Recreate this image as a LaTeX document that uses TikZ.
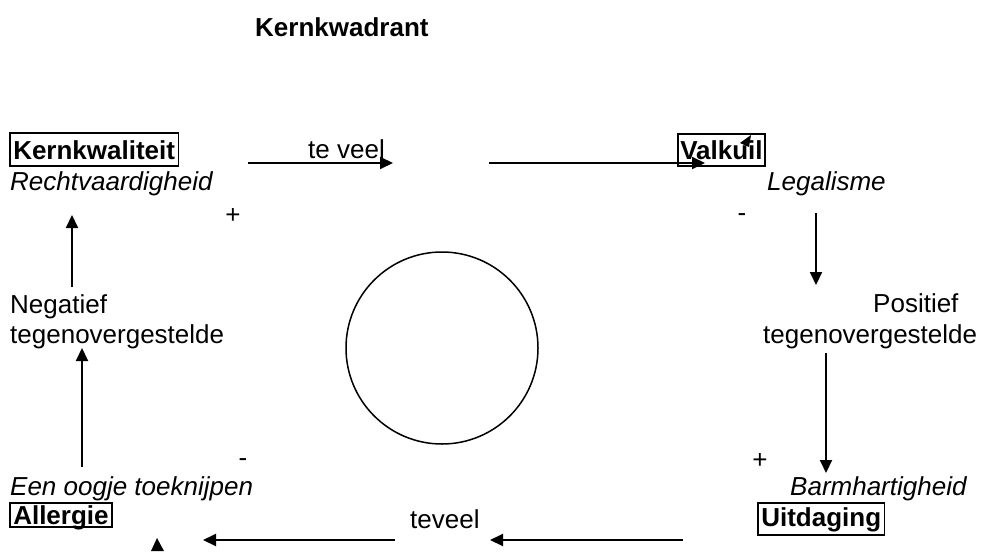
\documentclass[tikz,border=0pt]{standalone}
\usepackage{fontspec}
\setmainfont{Liberation Sans}
\usetikzlibrary{arrows.meta}
\begin{document}
\begin{tikzpicture}[x=1pt,y=-1pt,
  every node/.style={font=\fontsize{26}{30}\selectfont, inner sep=0pt},
  lbl/.style={anchor=base west},
  sign/.style={anchor=center},
  boxed/.style={draw, line width=1.5pt, anchor=base west, inner xsep=3.5pt, inner ysep=3pt, font=\fontsize{26}{30}\selectfont\bfseries},
  flow/.style={line width=2pt, -{Triangle[length=13pt,width=12pt]}},
  tip/.style={fill=black}]
\useasboundingbox (0,0) rectangle (984,551);
% title
\node[lbl, font=\fontsize{26}{30}\selectfont\bfseries] (title) at (255,37) {Kernkwadrant};
% corner boxes
\node[boxed, text height=23pt, text depth=4pt] (kern) at (9,159) {Kernkwaliteit};
\node[boxed, text height=22pt, text depth=4pt, inner xsep=2.5pt] (valk) at (677,159) {Valkuil};
\node[boxed, text height=20pt, text depth=6pt] (uitd) at (757,526) {Uitdaging};
\node[boxed, text height=18pt, text depth=0pt] (allg) at (9,524) {Allergie};
% italic texts
\node[lbl, font=\fontsize{26}{30}\selectfont\itshape] (recht) at (10,190) {Rechtvaardigheid};
\node[lbl, font=\fontsize{26}{30}\selectfont\itshape] (legal) at (767,190) {Legalisme};
\node[lbl, font=\fontsize{26}{30}\selectfont\itshape] (oogje) at (10,495) {Een oogje toeknijpen};
\node[lbl, font=\fontsize{26}{30}\selectfont\itshape] (barm) at (790,495) {Barmhartigheid};
% plain texts
\node[lbl] (teveelA) at (308,158) {te veel};
\node[lbl] (teveelB) at (410,528) {teveel};
\node[lbl] (neg) at (10,313) {Negatief};
\node[lbl] (negt) at (10,343) {tegenovergestelde};
\node[lbl] (pos) at (873,312) {Positief};
\node[lbl] (post) at (763,343) {tegenovergestelde};
% signs
\node[sign] (plusA) at (233,216) {+};
\node[sign] (minA) at (742,218) {-};
\node[sign] (minB) at (243,463) {-};
\node[sign] (plusB) at (760,461) {+};
% circle
\node[draw, circle, line width=1.5pt, minimum size=192pt] (core) at (442,348) {};
% arrow end points
\coordinate (a1s) at (248,163); \coordinate (a1e) at (393,163);
\coordinate (a2s) at (489,163); \coordinate (a2e) at (705,163);
\coordinate (a3s) at (816,213); \coordinate (a3e) at (816,285);
\coordinate (a4s) at (826,353); \coordinate (a4e) at (826,473);
\coordinate (a5s) at (683,540); \coordinate (a5e) at (490,540);
\coordinate (a6s) at (395,540); \coordinate (a6e) at (203,540);
\coordinate (a7s) at (82,467);  \coordinate (a7e) at (82,348);
\coordinate (a8s) at (72,287);  \coordinate (a8e) at (72,215);
\draw[flow] (a1s) -- (a1e);
\draw[flow] (a2s) -- (a2e);
\draw[flow] (a3s) -- (a3e);
\draw[flow] (a4s) -- (a4e);
\draw[flow] (a5s) -- (a5e);
\draw[flow] (a6s) -- (a6e);
\draw[flow] (a7s) -- (a7e);
\draw[flow] (a8s) -- (a8e);
% stray arrowheads
\fill[tip] (751,135) -- (740,143) -- (749,147) -- cycle;
\fill[tip] (157,538) -- (151,551) -- (164,551) -- cycle;
\end{tikzpicture}
\end{document}
